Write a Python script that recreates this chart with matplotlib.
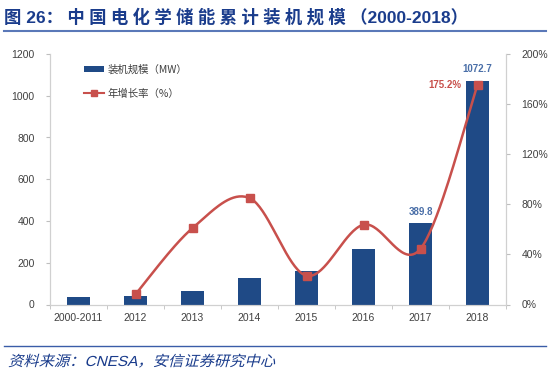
import numpy as np
import matplotlib
matplotlib.use("Agg")
import matplotlib.pyplot as plt
from matplotlib.lines import Line2D
from matplotlib.patches import Patch, PathPatch
from matplotlib.textpath import TextPath
from matplotlib.font_manager import FontProperties
from matplotlib.transforms import Affine2D

plt.rcParams['font.family'] = ['Liberation Sans', 'Noto Sans CJK SC', 'DejaVu Sans']

categories = ["2000-2011", "2012", "2013", "2014", "2015", "2016", "2017", "2018"]
capacity_mw = [36, 40, 67, 129, 161, 268, 389.8, 1072.7]
growth_pct = [None, 8.2, 61.0, 85.0, 23.0, 63.7, 44.5, 175.2]
left_ticks = [0, 200, 400, 600, 800, 1000, 1200]
right_ticks = [0, 40, 80, 120, 160, 200]

BAR = "#1f4a86"
RED = "#c8504c"
GRAY = "#404040"
TITLE = "#1a3c8c"

fig = plt.figure(figsize=(5.5, 3.74), dpi=100)
ax = fig.add_axes([50/550, 1-304.5/374, (506-50)/550, (304.5-54)/374])
ax2 = ax.twinx()

x = np.arange(len(categories))
ax.bar(x, capacity_mw, width=0.4, color=BAR, zorder=2)
ax.set_xlim(-0.5, len(categories)-0.5)
ax.set_ylim(0, 1200)
ax.set_yticks(left_ticks)
ax.set_xticks(x)
ax.set_xticklabels(categories)
ax.set_xticks(np.arange(-0.5, len(categories)), minor=True)
ax.tick_params(axis='x', which='major', length=0, labelsize=7.5, colors=GRAY, pad=6)
ax.tick_params(axis='x', which='minor', length=3, color="#bfbfbf")
ax.tick_params(axis='y', length=3, color="#bfbfbf", labelsize=7.5, labelcolor=GRAY, pad=8)

# smoothed growth line (Catmull-Rom / Bezier through the data points)
gx = np.array([i for i, g in enumerate(growth_pct) if g is not None], dtype=float)
gy = np.array([g for g in growth_pct if g is not None], dtype=float)
px = np.concatenate([[gx[0]], gx, [gx[-1]]])
py = np.concatenate([[gy[0]], gy, [gy[-1]]])
cx, cy = [], []
t = np.linspace(0, 1, 40)
for i in range(1, len(px)-2):
    for k, arr in enumerate((px, py)):
        a, b, c, d = arr[i-1], arr[i], arr[i+1], arr[i+2]
        c1 = b + (c - a)/6
        c2 = c - (d - b)/6
        v = (1-t)**3*b + 3*(1-t)**2*t*c1 + 3*(1-t)*t**2*c2 + t**3*c
        (cx if k == 0 else cy).extend(v)
ax2.plot(cx, cy, color=RED, lw=1.8, zorder=3)
ax2.plot(gx, gy, ls='none', marker='s', ms=5.5, color=RED, zorder=4)
ax2.set_ylim(0, 200)
ax2.set_yticks(right_ticks)
ax2.set_yticklabels([f"{v}%" for v in right_ticks])
ax2.tick_params(axis='y', length=3, color="#bfbfbf", labelsize=7.5, labelcolor=GRAY, pad=8)

for a in (ax, ax2):
    a.spines['top'].set_visible(False)
    for s in ('left', 'right', 'bottom'):
        a.spines[s].set_color("#d0d0d0")
        a.spines[s].set_linewidth(0.8)

ax.text(x[6], capacity_mw[6] + 30, f"{capacity_mw[6]}", ha='center', va='bottom',
        fontsize=7, fontweight='bold', color="#4a6fa8")
ax.text(x[7], capacity_mw[7] + 30, f"{capacity_mw[7]}", ha='center', va='bottom',
        fontsize=7, fontweight='bold', color="#4a6fa8")
ax2.text(x[7] - 0.28, growth_pct[7], f"{growth_pct[7]}%", ha='right', va='center',
         fontsize=7, fontweight='bold', color=RED)

handles = [Patch(facecolor=BAR, edgecolor='none'),
           Line2D([0], [0], color=RED, lw=1.5, marker='s', ms=4)]
leg = ax.legend(handles, ["装机规模（MW）", "年增长率（%）"], loc='upper left',
                bbox_to_anchor=(0.055, 0.995), frameon=False, fontsize=7.5,
                handlelength=1.9, handleheight=0.6, labelspacing=1.3, handletextpad=0.3)
for txt in leg.get_texts():
    txt.set_color(GRAY)
    txt.set_family(['Noto Sans CJK SC'])

sp = "\u2005"
title_cjk = sp.join("中国电化学储能累计装机规模")
fig.text(4/550, 1-17/374, "图 26：" + sp + title_cjk + sp + "（2000-2018）", ha='left', va='center',
         fontsize=12.5, fontweight='bold', color=TITLE,
         family=['Liberation Sans', 'Noto Sans CJK SC', 'DejaVu Sans'])
fig.add_artist(Line2D([4/550, 546/550], [1-31/374, 1-31/374], color="#5a78b8", lw=1.5))
fig.add_artist(Line2D([4/550, 546/550], [1-346/374, 1-346/374], color="#3a5ca8", lw=1.0))

# italic (slanted) source line
src = "资料来源：CNESA，安信证券研究中心"
try:
    fp = FontProperties(family=['Liberation Sans', 'Noto Sans CJK SC'], size=10.5)
    tp = TextPath((0, 0), src, prop=fp)
    tr = Affine2D().skew_deg(14, 0).scale(100/72 * 1.05, 100/72).translate(8, 374 - 366)
    fig.add_artist(PathPatch(tp, transform=tr, facecolor=TITLE, edgecolor='none', lw=0))
except Exception:
    fig.text(4/550, 1-361/374, src, ha='left', va='center', fontsize=10.5, style='italic',
             color=TITLE, family=['Liberation Sans', 'Noto Sans CJK SC'])

fig.savefig("out.png", dpi=100)
